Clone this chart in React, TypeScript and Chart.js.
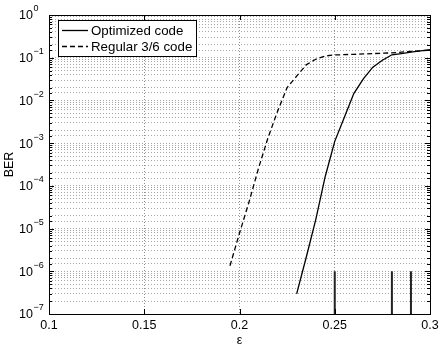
import React, { useEffect, useRef } from "react";
import { Chart, registerables } from "chart.js";

Chart.register(...registerables);

// ---- data ----
const optimizedX = [0.23, 0.235, 0.24, 0.245, 0.25, 0.255, 0.26, 0.265, 0.27, 0.275, 0.28, 0.285, 0.29, 0.295, 0.3];
const optimizedBER = [2.95e-7, 2.1e-6, 1.6e-5, 1.66e-4, 1.1e-3, 4.0e-3, 0.0145, 0.032, 0.06, 0.087, 0.117, 0.125, 0.135, 0.145, 0.155];

const regularX = [0.195, 0.2, 0.205, 0.21, 0.215, 0.22, 0.225, 0.23, 0.235, 0.24, 0.245, 0.25, 0.26, 0.27, 0.28, 0.29, 0.3];
const regularBER = [1.35e-6, 7.8e-6, 4.2e-5, 2.6e-4, 1.35e-3, 5.6e-3, 0.02, 0.037, 0.068, 0.092, 0.11, 0.116, 0.12, 0.125, 0.13, 0.14, 0.15];

const stemX = [0.25, 0.28, 0.29];
const stemBottom = 1e-7;
const stemTop = 1e-6;

const legendLabels = ["Optimized code", "Regular 3/6 code"];
const xTickValues = [0.1, 0.15, 0.2, 0.25, 0.3];
const xTickLabels = ["0.1", "0.15", "0.2", "0.25", "0.3"];
const yDecades = [-7, -6, -5, -4, -3, -2, -1, 0];
const xTitle = "ε";
const yTitle = "BER";

const FONT = "'Liberation Sans', Arial, Helvetica, sans-serif";

const toPoints = (xs: number[], ys: number[]) => xs.map((x, i) => ({ x, y: ys[i] }));

const overlayPlugin = {
  id: "matlabOverlay",
  afterDraw(chart: any) {
    const ctx = chart.ctx as CanvasRenderingContext2D;
    const area = chart.chartArea;
    const xs = chart.scales.x;
    const ys = chart.scales.y;
    ctx.save();
    // box
    ctx.strokeStyle = "#000";
    ctx.lineWidth = 1;
    ctx.setLineDash([]);
    ctx.strokeRect(Math.round(area.left) + 0.5, Math.round(area.top) + 0.5, Math.round(area.right - area.left), Math.round(area.bottom - area.top));
    // x ticks
    ctx.beginPath();
    xTickValues.forEach((v) => {
      const px = Math.round(xs.getPixelForValue(v)) + 0.5;
      ctx.moveTo(px, area.bottom);
      ctx.lineTo(px, area.bottom - 5);
      ctx.moveTo(px, area.top);
      ctx.lineTo(px, area.top + 5);
    });
    // y ticks
    ys.ticks.forEach((t: any) => {
      const py = Math.round(ys.getPixelForValue(t.value)) + 0.5;
      const exp = Math.log10(t.value);
      const len = Math.abs(exp - Math.round(exp)) < 1e-6 ? 5 : 3;
      ctx.moveTo(area.left, py);
      ctx.lineTo(area.left + len, py);
      ctx.moveTo(area.right, py);
      ctx.lineTo(area.right - len, py);
    });
    ctx.stroke();

    // tick labels
    ctx.fillStyle = "#000";
    ctx.font = `12.5px ${FONT}`;
    ctx.textAlign = "center";
    ctx.textBaseline = "middle";
    xTickValues.forEach((v, i) => {
      ctx.fillText(xTickLabels[i], xs.getPixelForValue(v), area.bottom + 12);
    });
    yDecades.forEach((e) => {
      const py = ys.getPixelForValue(Math.pow(10, e));
      ctx.font = `12.5px ${FONT}`;
      ctx.textAlign = "right";
      ctx.textBaseline = "middle";
      ctx.fillText("10", 33, py + 1);
      ctx.font = `9px ${FONT}`;
      ctx.textAlign = "left";
      ctx.textBaseline = "middle";
      ctx.fillText(e === 0 ? "0" : "\u2212" + Math.abs(e), 33.5, py - 6);
    });
    // titles
    ctx.font = `12.5px ${FONT}`;
    ctx.textAlign = "center";
    ctx.textBaseline = "middle";
    ctx.fillText(xTitle, (area.left + area.right) / 2, area.bottom + 27);
    ctx.save();
    ctx.translate(10, (area.top + area.bottom) / 2);
    ctx.rotate(-Math.PI / 2);
    ctx.fillText(yTitle, 0, 0);
    ctx.restore();

    // legend
    const lx = area.left + 9;
    const ly = area.top + 5;
    const lw = 138;
    const lh = 36;
    ctx.fillStyle = "#fff";
    ctx.fillRect(lx, ly, lw, lh);
    ctx.strokeStyle = "#000";
    ctx.lineWidth = 1;
    ctx.strokeRect(Math.round(lx) + 0.5, Math.round(ly) + 0.5, lw, lh);
    const rows = [ly + 10.5, ly + 26.5];
    const dashes = [[], [5, 3]];
    rows.forEach((ry, i) => {
      ctx.beginPath();
      ctx.setLineDash(dashes[i]);
      ctx.lineWidth = 1.3;
      ctx.moveTo(lx + 4, ry);
      ctx.lineTo(lx + 30, ry);
      ctx.stroke();
      ctx.setLineDash([]);
      ctx.fillStyle = "#000";
      ctx.font = `13.3px ${FONT}`;
      ctx.textAlign = "left";
      ctx.textBaseline = "middle";
      ctx.fillText(legendLabels[i], lx + 33, ry + 0.5);
    });
    ctx.restore();
  },
};

export default function App() {
  const ref = useRef<HTMLCanvasElement | null>(null);
  useEffect(() => {
    if (!ref.current) return;
    const stemDatasets = stemX.map((x) => ({
      label: "stem",
      data: [
        { x, y: stemBottom },
        { x, y: stemTop },
      ],
      borderColor: "#222",
      borderWidth: 2,
      pointRadius: 0,
      fill: false,
    }));
    const chart = new Chart(ref.current, {
      type: "line",
      data: {
        datasets: [
          {
            label: legendLabels[0],
            data: toPoints(optimizedX, optimizedBER),
            borderColor: "#000",
            borderWidth: 1.3,
            pointRadius: 0,
            tension: 0,
            fill: false,
          },
          {
            label: legendLabels[1],
            data: toPoints(regularX, regularBER),
            borderColor: "#000",
            borderWidth: 1.3,
            borderDash: [5, 3],
            pointRadius: 0,
            tension: 0,
            fill: false,
          },
          ...stemDatasets,
        ],
      },
      options: {
        responsive: false,
        animation: false,
        layout: { padding: { left: 49, top: 15, right: 13, bottom: 35 } },
        plugins: { legend: { display: false }, tooltip: { enabled: false } },
        scales: {
          x: {
            type: "linear",
            min: 0.1,
            max: 0.3,
            ticks: { display: false, stepSize: 0.05 },
            grid: {
              drawTicks: false,
              color: "#8c8c8c",
              lineWidth: 1,
            },
            border: { display: false, dash: [1, 2] },
          },
          y: {
            type: "logarithmic",
            min: 1e-7,
            max: 1,
            ticks: { display: false, autoSkip: false },
            grid: {
              drawTicks: false,
              color: "#a8a8a8",
              lineWidth: 1,
            },
            border: { display: false, dash: [1, 2] },
          },
        },
      },
      plugins: [overlayPlugin],
    } as any);
    return () => chart.destroy();
  }, []);
  return (
    <div style={{ position: "fixed", left: 0, top: 0, width: 443, height: 349, background: "#fff" }}>
      <canvas ref={ref} width={443} height={349} style={{ display: "block" }} />
    </div>
  );
}
